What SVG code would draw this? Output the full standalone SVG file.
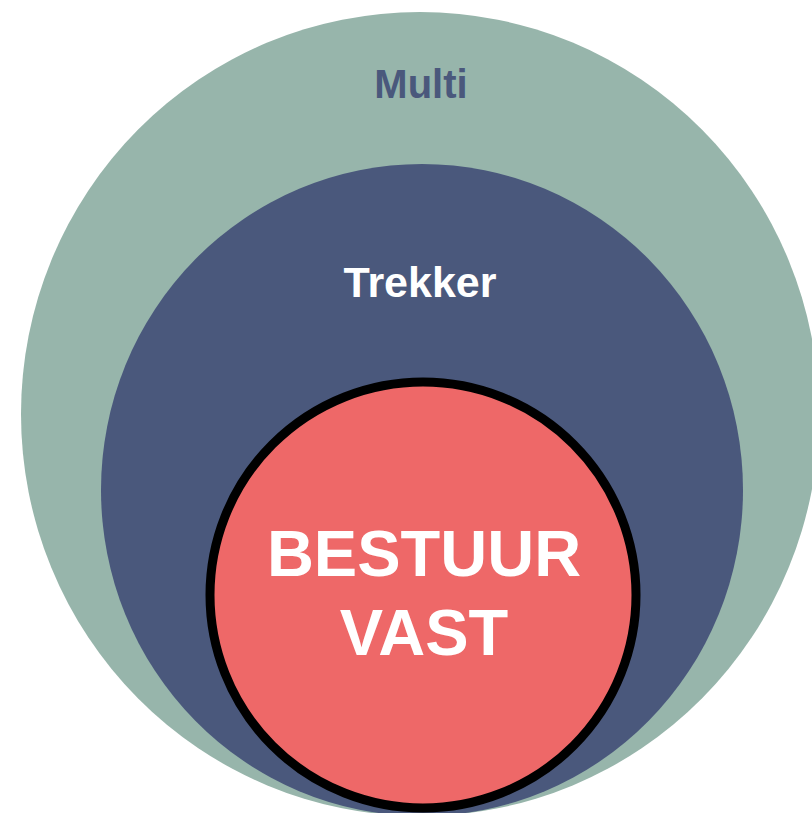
<svg xmlns="http://www.w3.org/2000/svg" width="812" height="813" viewBox="0 0 812 813">
<style>
text{font-family:"Liberation Sans",Arial,sans-serif;font-weight:bold;text-anchor:middle}
.lbl-multi{fill:#4a587c;font-size:40px}
.lbl-w{fill:#ffffff}
</style>
<rect width="812" height="813" fill="#ffffff"/>
<g id="multi">
<ellipse cx="420" cy="414" rx="399" ry="402" fill="#97b5ab"/>
<text class="lbl-multi" x="421" y="98">Multi</text>
</g>
<g id="trekker">
<ellipse cx="422" cy="490" rx="321" ry="326" fill="#4a587c"/>
<text class="lbl-w" x="420" y="297" font-size="43">Trekker</text>
</g>
<g id="bestuur-vast">
<circle cx="423" cy="595" r="213" fill="#ee6868" stroke="#000000" stroke-width="9"/>
<text class="lbl-w" font-size="65"><tspan x="424" y="576">BESTUUR</tspan><tspan x="424" y="655">VAST</tspan></text>
</g>
<g id="connectors"/>
</svg>
